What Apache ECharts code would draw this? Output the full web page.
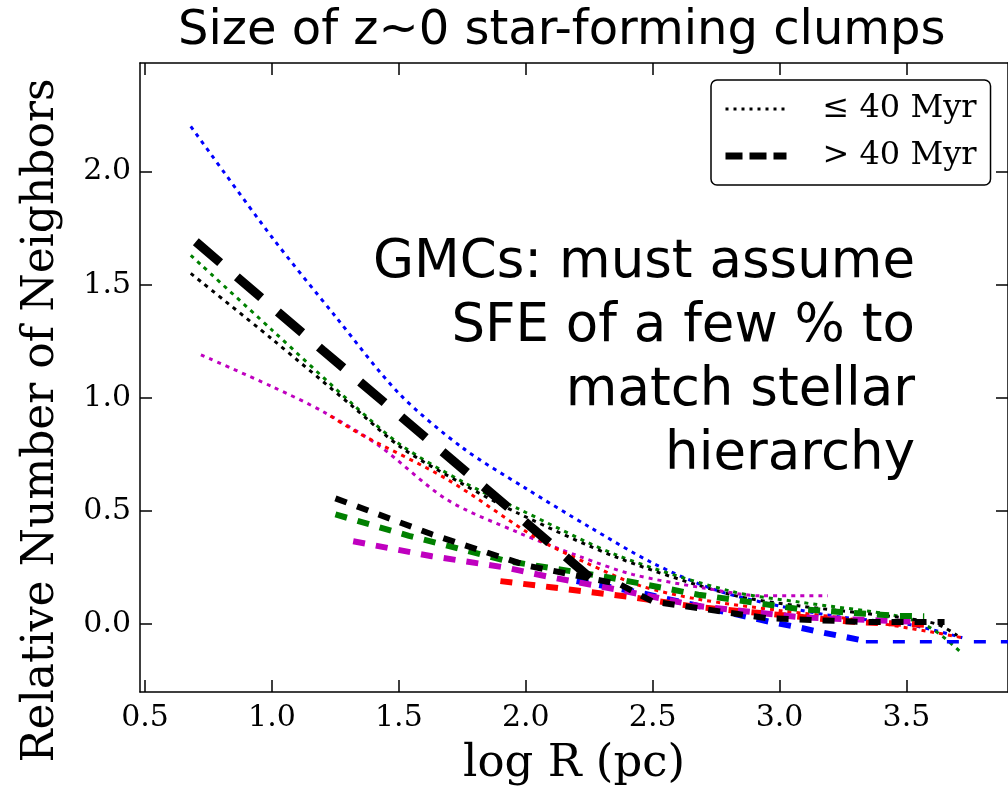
<!DOCTYPE html>
<html>
<head>
<meta charset="utf-8">
<script src="https://cdn.jsdelivr.net/npm/echarts@6/dist/echarts.min.js"></script>
<style>
  html, body { margin: 0; padding: 0; background: #fff; }
  #main { width: 1008px; height: 792px; }
</style>
</head>
<body>
<div id="main"></div>
<script>
// tick labels
var xTicks = [0.5, 1.0, 1.5, 2.0, 2.5, 3.0, 3.5];
var yTicks = [0.0, 0.5, 1.0, 1.5, 2.0];

// <= 40 Myr (dotted)
var blueDotX = [0.68, 1.0, 1.25, 1.5, 1.75, 2.0, 2.25, 2.5, 2.75, 3.0, 3.25, 3.5, 3.72];
var blueDotY = [2.20, 1.71, 1.36, 1.02, 0.78, 0.60, 0.43, 0.27, 0.15, 0.08, 0.03, 0.0, -0.06];
var greenDotX = [0.68, 1.0, 1.32, 1.51, 1.75, 1.97, 2.37, 2.81, 3.08, 3.47, 3.6, 3.72];
var greenDotY = [1.63, 1.30, 0.97, 0.79, 0.63, 0.51, 0.30, 0.145, 0.097, 0.035, -0.02, -0.13];
var blackDotX = [0.68, 1.0, 1.32, 1.51, 1.75, 1.97, 2.37, 2.81, 3.08, 3.47, 3.62, 3.70];
var blackDotY = [1.55, 1.26, 0.96, 0.78, 0.62, 0.49, 0.29, 0.13, 0.08, 0.03, 0.0, -0.05];
var magentaDotX = [0.72, 1.0, 1.2, 1.42, 1.69, 1.97, 2.21, 2.42, 2.7, 2.93, 3.19];
var magentaDotY = [1.19, 1.05, 0.94, 0.79, 0.55, 0.405, 0.30, 0.22, 0.16, 0.125, 0.125];
var redDotX = [1.23, 1.34, 1.69, 2.05, 2.24, 2.45, 2.68, 3.0, 3.3, 3.6, 3.72];
var redDotY = [0.92, 0.845, 0.64, 0.375, 0.27, 0.17, 0.11, 0.06, 0.02, -0.035, -0.06];

// > 40 Myr (dashed)
var bigBlackX = [0.70, 1.2, 1.6, 2.0, 2.31];
var bigBlackY = [1.69, 1.21, 0.83, 0.45, 0.15];
var blackDashX = [1.25, 1.63, 2.0, 2.37, 2.5, 2.95, 3.34, 3.65];
var blackDashY = [0.556, 0.397, 0.26, 0.176, 0.10, 0.026, 0.009, 0.009];
var greenDashX = [1.25, 1.54, 1.92, 2.31, 2.68, 3.08, 3.47, 3.57];
var greenDashY = [0.485, 0.39, 0.28, 0.21, 0.13, 0.066, 0.036, 0.035];
var magentaDashX = [1.32, 1.63, 1.92, 2.10, 2.39, 2.68, 3.08, 3.47, 3.55];
var magentaDashY = [0.366, 0.30, 0.25, 0.207, 0.146, 0.08, 0.03, 0.013, 0.01];
var redDashX = [1.9, 2.10, 2.41, 2.68, 3.29, 3.59];
var redDashY = [0.19, 0.163, 0.12, 0.075, 0.01, -0.004];
var blueDashX = [2.2, 2.42, 2.68, 2.97, 3.07, 3.16, 3.26, 3.34];
var blueDashY = [0.19, 0.146, 0.08, 0.008, -0.013, -0.035, -0.057, -0.075];
var blueTailX = [3.34, 3.9];
var blueTailY = [-0.078, -0.078];

function zip(xs, ys) {
  return xs.map(function (x, i) { return [x, ys[i]]; });
}

var serif = 'DejaVu Serif';
var sans = 'DejaVu Sans';
var dotted = [4, 5];

function line(name, xs, ys, color, width, dash, smooth) {
  return {
    name: name,
    type: 'line',
    data: zip(xs, ys),
    symbol: 'none',
    showSymbol: false,
    silent: true,
    smooth: smooth || false,
    lineStyle: { color: color, width: width, type: dash, cap: 'butt' }
  };
}

var myChart = echarts.init(document.getElementById('main'));

var axisLine = { show: true, onZero: false, lineStyle: { color: '#000', width: 1.5 } };
var tickStyle = { color: '#000', width: 1.5 };

var option = {
  animation: false,
  backgroundColor: '#fff',
  title: {
    text: 'Size of z~0 star-forming clumps',
    left: 178,
    top: 8,
    padding: 0,
    textStyle: { fontFamily: sans, fontSize: 48, fontWeight: 'normal', color: '#000' }
  },
  legend: {
    data: [
      { name: '≤ 40 Myr', lineStyle: { width: 3, type: [3, 5] } },
      { name: '> 40 Myr', lineStyle: { width: 7, type: [17, 7] } }
    ],
    orient: 'vertical',
    left: 711,
    top: 80,
    backgroundColor: '#fff',
    borderColor: '#000',
    borderWidth: 1.5,
    borderRadius: 6,
    padding: [13, 14, 13, 11],
    itemGap: 15,
    itemWidth: 61,
    itemHeight: 14,
    itemStyle: { opacity: 0 },
    selectedMode: false,
    textStyle: { fontFamily: serif, fontSize: 32, color: '#000', padding: [0, 0, 0, 31] }
  },
  grid: { left: 140, top: 63, width: 870, height: 631 },
  xAxis: [{
    type: 'value',
    min: 0.48,
    max: 3.9,
    position: 'bottom',
    axisLine: axisLine,
    axisTick: { show: true, inside: true, length: 12, customValues: xTicks, lineStyle: tickStyle },
    axisLabel: {
      customValues: xTicks, margin: 11,
      fontFamily: serif, fontSize: 30, color: '#000',
      formatter: function (v) { return v.toFixed(1); }
    },
    splitLine: { show: false },
    name: 'log R (pc)',
    nameLocation: 'middle',
    nameGap: 50,
    nameTextStyle: { fontFamily: serif, fontSize: 45, color: '#000' }
  }, {
    type: 'value',
    min: 0.48,
    max: 3.9,
    position: 'top',
    axisLine: axisLine,
    axisTick: { show: true, inside: true, length: 12, customValues: xTicks, lineStyle: tickStyle },
    axisLabel: { show: false },
    splitLine: { show: false }
  }],
  yAxis: [{
    type: 'value',
    min: -0.3,
    max: 2.48,
    position: 'left',
    axisLine: axisLine,
    axisTick: { show: true, inside: true, length: 12, customValues: yTicks, lineStyle: tickStyle },
    axisLabel: {
      customValues: yTicks, margin: 9,
      fontFamily: serif, fontSize: 30, color: '#000',
      formatter: function (v) { return v.toFixed(1); }
    },
    splitLine: { show: false },
    name: 'Relative Number of Neighbors',
    nameLocation: 'middle',
    nameGap: 76,
    nameTextStyle: { fontFamily: serif, fontSize: 44, color: '#000', padding: [0, 86, 0, 0] }
  }, {
    type: 'value',
    min: -0.3,
    max: 2.48,
    position: 'right',
    axisLine: axisLine,
    axisTick: { show: true, inside: true, length: 12, customValues: yTicks, lineStyle: tickStyle },
    axisLabel: { show: false },
    splitLine: { show: false }
  }],
  graphic: [
    { type: 'text', x: 915, y: 263, style: { text: 'GMCs: must assume', font: '53px "DejaVu Sans"', align: 'right', verticalAlign: 'middle', fill: '#000' } },
    { type: 'text', x: 915, y: 327, style: { text: 'SFE of a few % to', font: '53px "DejaVu Sans"', align: 'right', verticalAlign: 'middle', fill: '#000' } },
    { type: 'text', x: 915, y: 391, style: { text: 'match stellar', font: '53px "DejaVu Sans"', align: 'right', verticalAlign: 'middle', fill: '#000' } },
    { type: 'text', x: 915, y: 455, style: { text: 'hierarchy', font: '53px "DejaVu Sans"', align: 'right', verticalAlign: 'middle', fill: '#000' } }
  ],
  series: [
    line('blue dotted', blueDotX, blueDotY, '#0000ff', 3, dotted, 0.3),
    line('green dotted', greenDotX, greenDotY, '#008000', 3, dotted, 0.3),
    line('black dotted', blackDotX, blackDotY, '#000000', 3, dotted, 0.3),
    line('magenta dotted', magentaDotX, magentaDotY, '#bf00bf', 3, dotted, 0.3),
    line('red dotted', redDotX, redDotY, '#ff0000', 3, dotted, 0.3),
    line('blue tail', blueTailX, blueTailY, '#0000ff', 3.5, [12, 15]),
    line('blue dashed', blueDashX, blueDashY, '#0000ff', 6, [12, 11]),
    line('red dashed', redDashX, redDashY, '#ff0000', 6, [12, 11]),
    line('magenta dashed', magentaDashX, magentaDashY, '#bf00bf', 6, [12, 11]),
    line('green dashed', greenDashX, greenDashY, '#008000', 6, [12, 11]),
    line('black dashed', blackDashX, blackDashY, '#000000', 6, [12, 11]),
    line('big black dashed', bigBlackX, bigBlackY, '#000000', 9, [32, 22]),
    // legend samples
    line('≤ 40 Myr', [], [], '#000000', 3, dotted),
    line('> 40 Myr', [], [], '#000000', 7, [17, 7])
  ]
};

myChart.setOption(option);
</script>
</body>
</html>
